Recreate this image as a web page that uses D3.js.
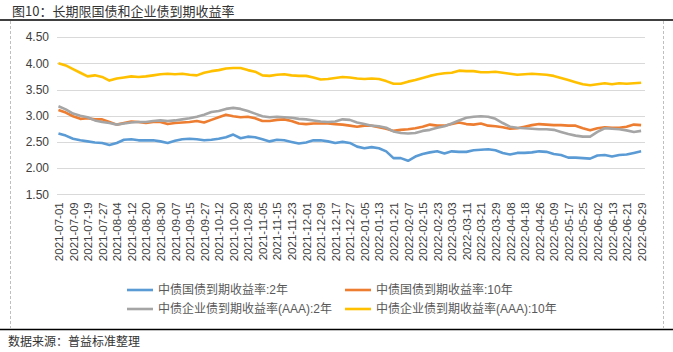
<!DOCTYPE html>
<html>
<head>
<meta charset="utf-8">
<script src="https://cdn.jsdelivr.net/npm/d3@7"></script>
<style>
  body { margin: 0; background: #fff; }
  svg { display: block; }
  .axis path { display: none; }
  .axis text { fill: #404040; font-family: "Liberation Sans", Arial, sans-serif; }
</style>
</head>
<body>
<div id="chart"></div>
<script>
// tick labels on the category axis, one every 6 trading days
const dates = [
  '2021-07-01','2021-07-09','2021-07-19','2021-07-27','2021-08-04','2021-08-12','2021-08-20',
  '2021-08-30','2021-09-07','2021-09-15','2021-09-27','2021-10-12','2021-10-20','2021-10-28',
  '2021-11-05','2021-11-15','2021-11-23','2021-12-01','2021-12-09','2021-12-17','2021-12-27',
  '2022-01-05','2022-01-13','2022-01-21','2022-02-07','2022-02-15','2022-02-23','2022-03-03',
  '2022-03-11','2022-03-21','2022-03-29','2022-04-08','2022-04-18','2022-04-26','2022-05-09',
  '2022-05-17','2022-05-25','2022-06-02','2022-06-13','2022-06-21','2022-06-29'
];
const yTicks = [1.5, 2.0, 2.5, 3.0, 3.5, 4.0, 4.5];
const step = 3; // one reading every 3 trading days

// 中债国债到期收益率:2年
const gov2 = [2.66,2.62,2.56,2.53,2.51,2.49,2.48,2.44,2.48,2.54,2.55,2.53,2.53,2.53,2.51,2.48,2.52,
  2.55,2.56,2.55,2.53,2.54,2.56,2.59,2.64,2.57,2.60,2.59,2.55,2.51,2.54,2.53,2.50,2.47,2.49,2.53,
  2.53,2.51,2.48,2.50,2.48,2.41,2.38,2.40,2.38,2.32,2.19,2.19,2.14,2.22,2.27,2.30,2.32,2.28,2.32,
  2.31,2.31,2.34,2.35,2.36,2.34,2.29,2.26,2.29,2.29,2.30,2.32,2.31,2.27,2.25,2.20,2.20,2.19,2.18,
  2.24,2.25,2.22,2.25,2.26,2.29,2.32];
// 中债国债到期收益率:10年
const gov10 = [3.11,3.06,2.99,2.94,2.95,2.93,2.93,2.88,2.83,2.86,2.89,2.88,2.86,2.88,2.88,2.84,2.86,
  2.87,2.88,2.90,2.87,2.92,2.97,3.02,2.99,2.97,2.98,2.95,2.90,2.90,2.92,2.93,2.90,2.85,2.84,2.85,
  2.85,2.85,2.84,2.83,2.81,2.79,2.81,2.81,2.78,2.75,2.71,2.73,2.74,2.76,2.79,2.83,2.81,2.81,2.84,
  2.87,2.84,2.83,2.85,2.81,2.80,2.78,2.75,2.76,2.79,2.82,2.84,2.83,2.82,2.82,2.81,2.81,2.76,2.72,
  2.76,2.78,2.77,2.77,2.79,2.83,2.82];
// 中债企业债到期收益率(AAA):2年
const corp2 = [3.18,3.12,3.04,3.00,2.97,2.91,2.88,2.86,2.83,2.85,2.87,2.88,2.88,2.90,2.91,2.90,2.91,
  2.93,2.95,2.98,3.02,3.07,3.09,3.13,3.15,3.13,3.09,3.04,2.99,2.97,2.98,2.97,2.96,2.94,2.93,2.91,
  2.89,2.88,2.89,2.93,2.92,2.87,2.84,2.81,2.80,2.77,2.70,2.67,2.66,2.67,2.71,2.73,2.77,2.80,2.85,
  2.91,2.96,2.98,2.99,2.98,2.94,2.86,2.79,2.77,2.76,2.75,2.74,2.74,2.73,2.69,2.65,2.62,2.60,2.60,
  2.69,2.76,2.75,2.74,2.72,2.69,2.71];
// 中债企业债到期收益率(AAA):10年
const corp10 = [4.00,3.96,3.89,3.82,3.75,3.77,3.74,3.67,3.71,3.73,3.75,3.74,3.75,3.77,3.79,3.80,3.79,
  3.80,3.78,3.77,3.82,3.85,3.87,3.90,3.91,3.91,3.87,3.84,3.77,3.76,3.78,3.79,3.77,3.76,3.76,3.73,
  3.69,3.70,3.72,3.74,3.73,3.71,3.70,3.71,3.70,3.66,3.61,3.61,3.65,3.68,3.72,3.76,3.79,3.81,3.82,
  3.86,3.85,3.85,3.83,3.83,3.84,3.82,3.80,3.78,3.79,3.80,3.79,3.78,3.76,3.72,3.68,3.64,3.60,3.58,
  3.60,3.62,3.60,3.62,3.61,3.62,3.63];

const seriesNames = ['中债国债到期收益率:2年','中债国债到期收益率:10年',
  '中债企业债到期收益率(AAA):2年','中债企业债到期收益率(AAA):10年'];
const seriesColors = ['#5B9BD5','#ED7D31','#A5A5A5','#FFC000'];
const seriesData = [gov2, gov10, corp2, corp10];

const W = 673, H = 352;
const svg = d3.select('#chart').append('svg')
  .attr('width', W).attr('height', H);

// title and frame
svg.append('text')
  .attr('x', 12).attr('y', 16)
  .style('font-family', '"Noto Sans CJK SC", sans-serif')
  .style('font-size', '13px')
  .attr('fill', '#333')
  .text('图10：长期限国债和企业债到期收益率');

svg.append('line').attr('x1', 0).attr('x2', W).attr('y1', 20).attr('y2', 20)
  .attr('stroke', '#000').attr('stroke-width', 1.5);
svg.append('line').attr('x1', 0).attr('x2', W).attr('y1', 329.5).attr('y2', 329.5)
  .attr('stroke', '#000').attr('stroke-width', 1.5);
[10.5, 663.5].forEach(function(x){
  svg.append('line').attr('x1', x).attr('x2', x).attr('y1', 21).attr('y2', 329)
    .attr('stroke', '#bfbfbf').attr('stroke-dasharray', '3,2');
});

svg.append('text')
  .attr('x', 8).attr('y', 346)
  .style('font-family', '"Noto Sans CJK SC", sans-serif')
  .style('font-size', '12px')
  .attr('fill', '#333')
  .text('数据来源：普益标准整理');

// scales
let xScale = d3.scaleLinear()
  .domain([-0.6, 241.6])
  .range([57, 645]);

let yScale = d3.scaleLinear()
  .domain([1.5, 4.5])
  .range([194.3, 37.1]);

// gridlines
svg.append('g').selectAll('line')
  .data(yTicks).enter().append('line')
  .attr('x1', 57).attr('x2', 645)
  .attr('y1', d => Math.round(yScale(d)) + 0.5)
  .attr('y2', d => Math.round(yScale(d)) + 0.5)
  .attr('stroke', '#d9d9d9').attr('stroke-width', 1);

let yAxis = d3.axisLeft(yScale)
  .tickValues(yTicks)
  .tickSize(0)
  .tickPadding(8)
  .tickFormat(d3.format('.2f'));

svg.append('g')
  .attr('class', 'y axis')
  .attr('transform', 'translate(57,0)')
  .call(yAxis)
  .selectAll('text')
  .style('font-size', '12px');

let xAxis = d3.axisBottom(xScale)
  .tickValues(d3.range(0, 241, 6))
  .tickSize(0)
  .tickFormat(function(d, i){ return dates[i]; });

svg.append('g')
  .attr('class', 'x axis')
  .attr('transform', 'translate(0,' + 194.3 + ')')
  .call(xAxis)
  .selectAll('text')
  .style('font-size', '11.5px')
  .attr('y', 0)
  .attr('dy', '0.35em')
  .attr('transform', 'translate(0,8)rotate(-90)')
  .style('text-anchor', 'end');

// series lines
let line = d3.line()
  .x(function(d, i){ return xScale(i * step); })
  .y(function(d){ return yScale(d); });

svg.append('g').selectAll('path')
  .data(seriesData).enter().append('path')
  .attr('d', line)
  .attr('fill', 'none')
  .attr('stroke', (d, i) => seriesColors[i])
  .attr('stroke-width', 2.6)
  .attr('stroke-linejoin', 'round');

// legend
const legendPos = [[127, 290], [345, 290], [127, 309], [345, 309]];
let legend = svg.append('g').selectAll('g')
  .data(seriesNames).enter().append('g')
  .attr('transform', (d, i) => 'translate(' + legendPos[i][0] + ',' + legendPos[i][1] + ')');

legend.append('line')
  .attr('x1', 0).attr('x2', 26).attr('y1', 0).attr('y2', 0)
  .attr('stroke', (d, i) => seriesColors[i])
  .attr('stroke-width', 2.6);

legend.append('text')
  .attr('x', 31).attr('y', 0).attr('dy', '0.35em')
  .style('font-family', '"Liberation Sans", "Noto Sans CJK SC", sans-serif')
  .style('font-size', '12px')
  .attr('fill', '#595959')
  .text(d => d);
</script>
</body>
</html>
